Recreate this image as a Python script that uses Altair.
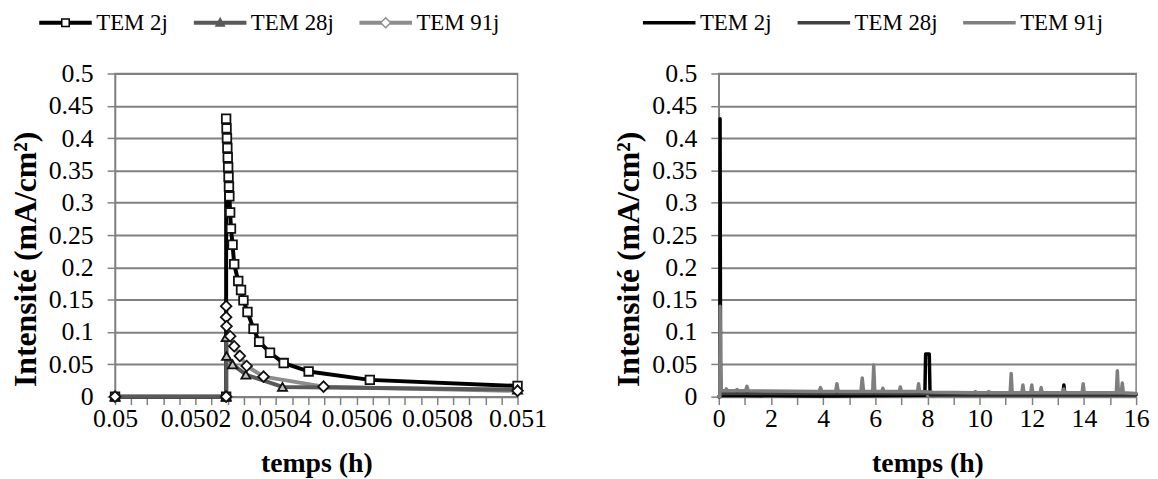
import altair as alt
import pandas as pd

FONT = "'Liberation Serif', 'Times New Roman', Times, serif"
SERIES = ["TEM 2j", "TEM 28j", "TEM 91j"]

# ---------- left panel : zoom on the first current peak ----------
L2_T = [0.05, 0.050276, 0.050276, 0.050277, 0.050278, 0.050279, 0.050280, 0.050281,
        0.050282, 0.050283, 0.050284, 0.050286, 0.050288, 0.050292, 0.050296, 0.050306,
        0.050313, 0.050319, 0.050329, 0.050344, 0.050358, 0.050385, 0.050419, 0.050481,
        0.050633, 0.051]
L2_I = [0.0, 0.0, 0.43, 0.415, 0.40, 0.385, 0.37, 0.355,
        0.34, 0.325, 0.31, 0.285, 0.26, 0.235, 0.205, 0.179,
        0.165, 0.149, 0.131, 0.105, 0.085, 0.068, 0.052, 0.039,
        0.026, 0.0165]

L28_T = [0.05, 0.050276, 0.050276, 0.050277, 0.050292, 0.050325, 0.050416, 0.051]
L28_I = [0.0, 0.0, 0.092, 0.063, 0.050, 0.034, 0.015, 0.011]

L91_T = [0.05, 0.050276, 0.050276, 0.050276, 0.050277, 0.050286, 0.050296, 0.050310,
         0.050327, 0.050369, 0.050518, 0.051]
L91_I = [0.0, 0.0, 0.14, 0.123, 0.109, 0.0935, 0.078, 0.063,
         0.0475, 0.031, 0.0155, 0.009]

# ---------- right panel : whole test (16 h) ----------
R2_T = [0.0, 0.04, 0.05, 0.07, 4.0, 7.9, 7.93, 8.07, 8.1, 13.19, 13.23, 13.27, 16.0]
R2_I = [0.0, 0.0, 0.43, 0.002, 0.001, 0.002, 0.066, 0.066, 0.003, 0.003, 0.018, 0.003, 0.003]

R28_T = [0.0, 0.04, 0.05, 0.08, 2.0, 6.0, 10.0, 16.0]
R28_I = [0.0, 0.0, 0.065, 0.005, 0.005, 0.005, 0.004, 0.004]

R91_T = [0.0, 0.04, 0.05, 0.08, 0.25, 0.29, 0.33, 0.65, 0.7, 0.75, 1.03, 1.08, 1.13,
         3.85, 3.9, 3.95, 4.48, 4.53, 4.58, 5.45, 5.5, 5.55, 5.9, 5.94, 5.98,
         6.25, 6.29, 6.33, 6.92, 6.96, 7.0, 7.62, 7.66, 7.7, 8.2, 9.8, 9.84, 9.88,
         10.3, 10.35, 10.4, 11.17, 11.21, 11.25, 11.62, 11.66, 11.7, 11.96, 12.0, 12.04,
         12.32, 12.36, 12.4, 13.19, 13.23, 13.27, 13.93, 13.97, 14.01,
         15.24, 15.28, 15.32, 15.43, 15.47, 15.51, 16.0]
R91_I = [0.0, 0.0, 0.14, 0.009, 0.009, 0.012, 0.009, 0.009, 0.011, 0.009, 0.009, 0.016, 0.009,
         0.008, 0.014, 0.008, 0.008, 0.020, 0.008, 0.008, 0.029, 0.008, 0.008, 0.049, 0.008,
         0.008, 0.013, 0.008, 0.008, 0.015, 0.008, 0.008, 0.020, 0.008, 0.007, 0.006, 0.008, 0.006,
         0.006, 0.008, 0.006, 0.006, 0.036, 0.006, 0.006, 0.018, 0.006, 0.006, 0.018, 0.006,
         0.006, 0.014, 0.006, 0.006, 0.012, 0.006, 0.006, 0.020, 0.006,
         0.006, 0.040, 0.006, 0.006, 0.021, 0.006, 0.005]

Y_TICKS = [0, 0.05, 0.1, 0.15, 0.2, 0.25, 0.3, 0.35, 0.4, 0.45, 0.5]
LX_TICKS = [0.05, 0.05004, 0.05008, 0.05012, 0.05016, 0.0502, 0.05024, 0.05028, 0.05032,
            0.05036, 0.0504, 0.05044, 0.05048, 0.05052, 0.05056, 0.0506, 0.05064, 0.05068,
            0.05072, 0.05076, 0.0508, 0.05084, 0.05088, 0.05092, 0.05096, 0.051]
RX_TICKS = [0, 1, 2, 3, 4, 5, 6, 7, 8, 9, 10, 11, 12, 13, 14, 15, 16]

LEFT_COLORS = ["#000000", "#595959", "#8c8c8c"]
RIGHT_COLORS = ["#000000", "#404040", "#7f7f7f"]

# legend symbols: line + marker drawn as filled paths.
# symbol box is 20 px (size 400), i.e. 10 px per unit; the path runs from -1 to 4.3 (53 px)
P_SQUARE = ("M-1,-0.2H1.2V0.2H-1Z M2.1,-0.2H4.3V0.2H2.1Z "
            "M1.2,-0.45H2.1V0.45H1.2Z M1.35,-0.3V0.3H1.95V-0.3Z")
P_TRI = "M-1,-0.2H4.3V0.2H-1Z M1.65,-0.6L2.2,0.4L1.1,0.4Z"
P_DIAM = ("M-1,-0.2H1.25V0.2H-1Z M2.05,-0.2H4.3V0.2H2.05Z "
          "M1.65,-0.6L2.25,0L1.65,0.6L1.05,0Z M1.65,-0.4L1.25,0L1.65,0.4L2.05,0Z")
P_LINE = "M-1,-0.18H4.3V0.18H-1Z"


def frame(ts, vs, name):
    return pd.DataFrame({"t": ts, "v": vs, "series": name, "i": list(range(len(ts)))})


left_df = pd.concat([frame(L2_T, L2_I, SERIES[0]), frame(L28_T, L28_I, SERIES[1]),
                     frame(L91_T, L91_I, SERIES[2])], ignore_index=True)
right_df = pd.concat([frame(R2_T, R2_I, SERIES[0]), frame(R28_T, R28_I, SERIES[1]),
                      frame(R91_T, R91_I, SERIES[2])], ignore_index=True)

y_axis = alt.Axis(title="Intensité (mA/cm²)", values=Y_TICKS, format=".2~f", grid=True,
                  labelOverlap=False, titleY=187)
y_enc = alt.Y("v:Q", scale=alt.Scale(domain=[0, 0.5], nice=False, zero=False), axis=y_axis)

xL = alt.X("t:Q", scale=alt.Scale(domain=[0.05, 0.051], nice=False, zero=False),
           axis=alt.Axis(title="temps (h)", values=LX_TICKS, grid=False, labelFlush=False,
                         labelOverlap=False,
                         labelExpr="abs(datum.value*5000 - round(datum.value*5000)) < 1e-6 ? format(datum.value, '.4~f') : ''"))
xR = alt.X("t:Q", scale=alt.Scale(domain=[0, 16], nice=False, zero=False),
           axis=alt.Axis(title="temps (h)", values=RX_TICKS, grid=False, labelFlush=False,
                         labelOverlap=False,
                         labelExpr="datum.value % 2 == 0 ? datum.label : ''"))


def line(base, name, color, x, w):
    return (base.transform_filter(alt.datum.series == name)
            .mark_line(color=color, strokeWidth=w, strokeJoin="round", strokeCap="round")
            .encode(x=x, y=y_enc, order="i:Q"))


def pts(base, name, shape, fill, size):
    return (base.transform_filter(alt.datum.series == name)
            .mark_point(shape=shape, size=size, fill=fill, fillOpacity=1, opacity=1,
                        stroke="#111111", strokeWidth=1.8)
            .encode(x=xL, y=y_enc))


def legend_layer(base, x, colors, paths):
    leg = alt.Legend(title=None, orient="none", legendX=-78, legendY=-63, direction="horizontal",
                     symbolSize=400, symbolStrokeWidth=0, labelOffset=36, columnPadding=24,
                     labelFont=FONT, labelFontSize=23, labelColor="black")
    return (base.transform_filter("false")
            .mark_point(filled=True, opacity=1)
            .encode(x=x, y=y_enc,
                    color=alt.Color("series:N", scale=alt.Scale(domain=SERIES, range=colors), legend=leg),
                    shape=alt.Shape("series:N", scale=alt.Scale(domain=SERIES, range=paths), legend=leg)))


baseL = alt.Chart(left_df)
left = alt.layer(
    line(baseL, SERIES[2], LEFT_COLORS[2], xL, 4),
    line(baseL, SERIES[0], LEFT_COLORS[0], xL, 4),
    line(baseL, SERIES[1], LEFT_COLORS[1], xL, 4),
    pts(baseL, SERIES[0], "square", "white", 75),
    pts(baseL, SERIES[1], "triangle-up", "#bfbfbf", 85),
    pts(baseL, SERIES[2], "diamond", "white", 115),
    legend_layer(baseL, xL, LEFT_COLORS, [P_SQUARE, P_TRI, P_DIAM]),
).properties(width=406, height=326)

baseR = alt.Chart(right_df)
right = alt.layer(
    line(baseR, SERIES[0], RIGHT_COLORS[0], xR, 3.5),
    line(baseR, SERIES[1], RIGHT_COLORS[1], xR, 3.5),
    line(baseR, SERIES[2], RIGHT_COLORS[2], xR, 3.5),
    legend_layer(baseR, xR, RIGHT_COLORS, [P_LINE, P_LINE, P_LINE]),
).properties(width=421, height=326)

chart = (alt.hconcat(left, right, spacing=65)
         .resolve_scale(color="independent", shape="independent")
         .properties(padding={"left": 0, "top": 0, "right": 0, "bottom": 0})
         .configure(font=FONT)
         .configure_axis(domainColor="#808080", domainWidth=1.5, tickColor="#808080",
                         tickWidth=1.5, tickSize=8, gridColor="#808080", gridWidth=2,
                         labelFont=FONT, labelFontSize=26, labelColor="black",
                         titleFont=FONT, titleFontWeight="bold", titleColor="black")
         .configure_axisY(titlePadding=6, labelPadding=14, titleFontSize=32)
         .configure_axisX(titlePadding=18, labelPadding=1, titleFontSize=28)
         .configure_view(stroke="#808080", strokeWidth=1.5))

chart.save("out.html", embed_options={"renderer": "svg", "actions": False})
